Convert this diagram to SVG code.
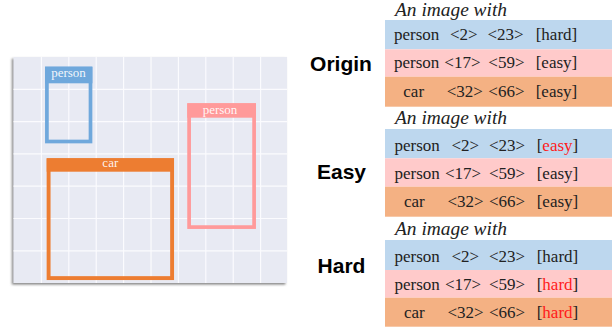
<svg xmlns="http://www.w3.org/2000/svg" width="615" height="330" viewBox="0 0 615 330">
  <defs>
    <filter id="panelShadow" x="-5%" y="-5%" width="110%" height="110%">
      <feDropShadow dx="-1.6" dy="1.6" stdDeviation="0.9" flood-color="#7a7a7a" flood-opacity="0.9"/>
    </filter>
    <style>
      .grid line { stroke: #fbfbfe; stroke-width: 1.2; }
      .boxlabel { font-family: "Liberation Serif", "Times New Roman", serif; font-size: 13px; fill: #ffffff; fill-opacity: 0.92; text-anchor: middle; }
      .intro { font-family: "Liberation Serif", "Times New Roman", serif; font-size: 18px; font-style: italic; fill: #222222; }
      .row { font-family: "Liberation Serif", "Times New Roman", serif; font-size: 17px; fill: #222222; }
      .red { fill: #ff1a1a; }
      .title { font-family: "Liberation Sans", Arial, sans-serif; font-size: 21px; font-weight: bold; fill: #000000; text-anchor: middle; }
      .blue { fill: #bdd7ee; }
      .pink { fill: #ffcaca; }
      .orange { fill: #f4b183; }
    </style>
  </defs>

  <rect width="615" height="330" fill="#ffffff"/>

  <!-- image panel with grid -->
  <g id="image-panel">
    <rect x="13.5" y="57" width="273.5" height="226" fill="#e8eaf3" filter="url(#panelShadow)"/>
    <g class="grid">
      <line x1="41.4" y1="57" x2="41.4" y2="283"/>
      <line x1="68.8" y1="57" x2="68.8" y2="283"/>
      <line x1="96.2" y1="57" x2="96.2" y2="283"/>
      <line x1="123.6" y1="57" x2="123.6" y2="283"/>
      <line x1="151" y1="57" x2="151" y2="283"/>
      <line x1="178.4" y1="57" x2="178.4" y2="283"/>
      <line x1="205.8" y1="57" x2="205.8" y2="283"/>
      <line x1="233.2" y1="57" x2="233.2" y2="283"/>
      <line x1="260.6" y1="57" x2="260.6" y2="283"/>
      <line x1="13.5" y1="89.3" x2="287" y2="89.3"/>
      <line x1="13.5" y1="121.6" x2="287" y2="121.6"/>
      <line x1="13.5" y1="153.9" x2="287" y2="153.9"/>
      <line x1="13.5" y1="186.2" x2="287" y2="186.2"/>
      <line x1="13.5" y1="218.5" x2="287" y2="218.5"/>
      <line x1="13.5" y1="250.8" x2="287" y2="250.8"/>
    </g>
  </g>

  <!-- bounding box: person (blue) -->
  <g id="box-person-blue">
    <rect x="46.9" y="68.5" width="43.6" height="73" fill="none" stroke="#6fa8dc" stroke-width="3.7"/>
    <rect x="45" y="66.7" width="47.4" height="16.6" fill="#6fa8dc"/>
    <text class="boxlabel" x="68.5" y="76.8">person</text>
  </g>

  <!-- bounding box: person (pink) -->
  <g id="box-person-pink">
    <rect x="189.1" y="105.1" width="65" height="122" fill="none" stroke="#ff9a9a" stroke-width="3.7"/>
    <rect x="187.3" y="103.3" width="68.7" height="14.4" fill="#ff9a9a"/>
    <text class="boxlabel" x="220" y="113.5">person</text>
  </g>

  <!-- bounding box: car (orange) -->
  <g id="box-car">
    <rect x="48.6" y="160.2" width="123.5" height="117.9" fill="none" stroke="#ed7d31" stroke-width="3.9"/>
    <rect x="46.7" y="158.3" width="127.3" height="13.4" fill="#ed7d31"/>
    <text class="boxlabel" x="110.3" y="167">car</text>
  </g>

  <!-- annotation: Origin -->
  <g id="origin">
    <text class="title" x="341" y="70.7">Origin</text>
    <text class="intro" x="395" y="15.5" textLength="112" lengthAdjust="spacingAndGlyphs">An image with</text>
    <rect class="blue" x="385" y="20" width="227" height="29.3"/>
    <rect class="pink" x="385" y="49.3" width="227" height="27.4"/>
    <rect class="orange" x="385" y="76.7" width="227" height="30"/>
    <text class="row" y="39.5"><tspan x="394">person</tspan><tspan x="450">&lt;2&gt;</tspan><tspan x="487.5">&lt;23&gt;</tspan><tspan x="535.7">[hard]</tspan></text>
    <text class="row" y="68.3"><tspan x="394">person</tspan><tspan x="444.3">&lt;17&gt;</tspan><tspan x="488.3">&lt;59&gt;</tspan><tspan x="535.7">[easy]</tspan></text>
    <text class="row" y="96.7"><tspan x="403.3">car</tspan><tspan x="446.7">&lt;32&gt;</tspan><tspan x="488.3">&lt;66&gt;</tspan><tspan x="535.7">[easy]</tspan></text>
  </g>

  <!-- annotation: Easy -->
  <g id="easy">
    <text class="title" x="341.5" y="179.3">Easy</text>
    <text class="intro" x="395" y="124" textLength="112" lengthAdjust="spacingAndGlyphs">An image with</text>
    <rect class="blue" x="385" y="129" width="227" height="29.3"/>
    <rect class="pink" x="385" y="158.3" width="227" height="28.4"/>
    <rect class="orange" x="385" y="186.7" width="227" height="30"/>
    <text class="row" y="150.7"><tspan x="394.5">person</tspan><tspan x="451.5">&lt;2&gt;</tspan><tspan x="489">&lt;23&gt;</tspan><tspan x="536.7">[<tspan class="red">easy</tspan>]</tspan></text>
    <text class="row" y="179"><tspan x="394.5">person</tspan><tspan x="445">&lt;17&gt;</tspan><tspan x="489">&lt;59&gt;</tspan><tspan x="536.7">[easy]</tspan></text>
    <text class="row" y="206.7"><tspan x="404">car</tspan><tspan x="447.5">&lt;32&gt;</tspan><tspan x="489">&lt;66&gt;</tspan><tspan x="536.7">[easy]</tspan></text>
  </g>

  <!-- annotation: Hard -->
  <g id="hard">
    <text class="title" x="341.5" y="273.3">Hard</text>
    <text class="intro" x="395" y="234.5" textLength="112" lengthAdjust="spacingAndGlyphs">An image with</text>
    <rect class="blue" x="385" y="240" width="227" height="30"/>
    <rect class="pink" x="385" y="270" width="227" height="27.7"/>
    <rect class="orange" x="385" y="297.7" width="227" height="29"/>
    <text class="row" y="261.7"><tspan x="394.5">person</tspan><tspan x="451.5">&lt;2&gt;</tspan><tspan x="489">&lt;23&gt;</tspan><tspan x="536.7">[hard]</tspan></text>
    <text class="row" y="290"><tspan x="394.5">person</tspan><tspan x="445">&lt;17&gt;</tspan><tspan x="489">&lt;59&gt;</tspan><tspan x="536.7">[<tspan class="red">hard</tspan>]</tspan></text>
    <text class="row" y="318.3"><tspan x="404">car</tspan><tspan x="447.5">&lt;32&gt;</tspan><tspan x="489">&lt;66&gt;</tspan><tspan x="536.7">[<tspan class="red">hard</tspan>]</tspan></text>
  </g>
</svg>
